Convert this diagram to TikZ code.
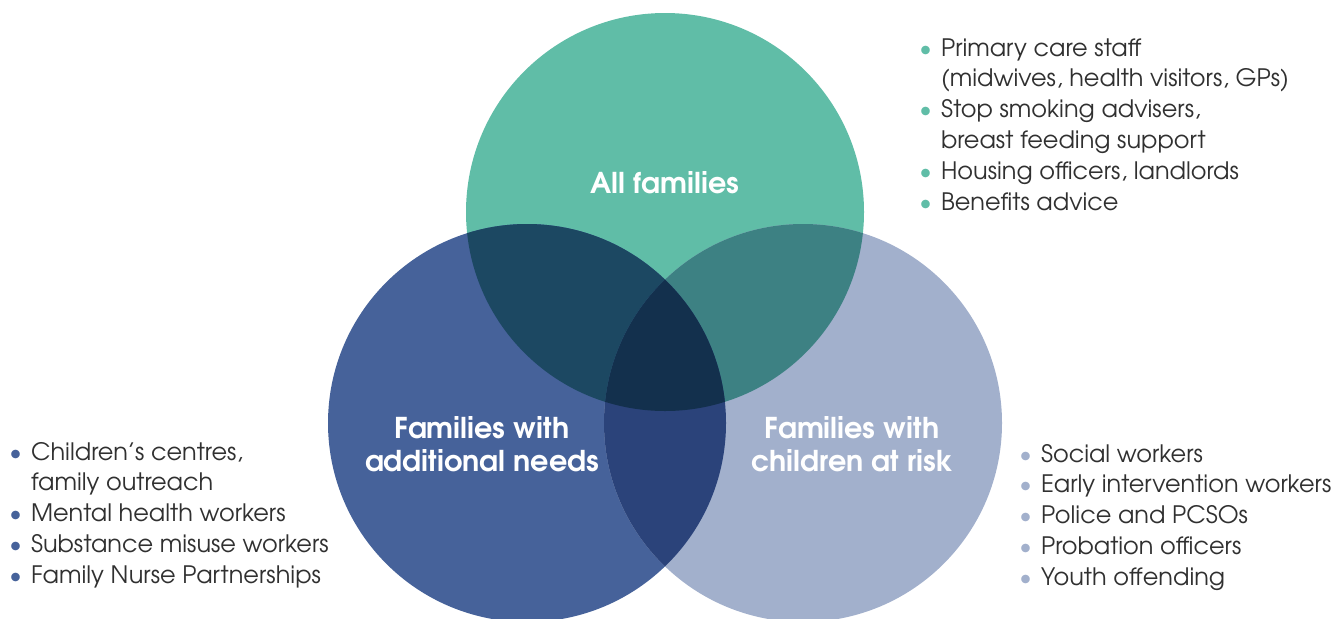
\documentclass[tikz,border=0pt]{standalone}
\usepackage{fontspec}
\setmainfont{TeX Gyre Adventor}
\definecolor{tealfill}{HTML}{60BDA7}
\definecolor{bluefill}{HTML}{46629A}
\definecolor{palefill}{HTML}{A2B0CC}
\definecolor{tealblue}{HTML}{1C4862}
\definecolor{tealpale}{HTML}{3D8183}
\definecolor{bluepale}{HTML}{2B437A}
\definecolor{allthree}{HTML}{13304D}
\definecolor{textgray}{HTML}{303030}
\newcommand{\bul}[1]{\textcolor{#1}{\textbullet}}
\tikzset{
  venn label/.style={text=white,font=\bfseries\fontsize{21.5}{24.75}\selectfont,align=center,inner sep=0pt},
  worker list/.style={anchor=base west,text=textgray,inner sep=0pt,font=\fontsize{18}{23.1}\selectfont},
}
\begin{document}
\begin{tikzpicture}[x=0.75pt,y=-0.75pt]
    \useasboundingbox (0,0) rectangle (1333,618);
    \coordinate (all) at (665,212);
    \coordinate (add) at (527,423);
    \coordinate (risk) at (803,423);

    % circles
    \fill[tealfill] (all) circle[radius=199];
    \fill[bluefill] (add) circle[radius=199];
    \fill[palefill] (risk) circle[radius=199];
    % overlaps
    \begin{scope}
        \clip (all) circle[radius=199];
        \fill[tealblue] (add) circle[radius=199];
        \fill[tealpale] (risk) circle[radius=199];
    \end{scope}
    \begin{scope}
        \clip (add) circle[radius=199];
        \fill[bluepale] (risk) circle[radius=199];
        \clip (risk) circle[radius=199];
        \fill[allthree] (all) circle[radius=199];
    \end{scope}

    \node[venn label] (alllab) at (665,183) {All families};
    \node[venn label] (addlab) at (482,444) {Families with\\additional needs};
    \node[venn label] (risklab) at (852,444) {Families with\\children at risk};

    \node[worker list] (alllist) at (919,56) {\begin{tabular}[t]{@{}l@{\hspace{7pt}}l@{}}
        \bul{tealfill} & Primary care staff\\
         & (midwives, health visitors, GPs)\\
        \bul{tealfill} & Stop smoking advisers,\\
         & breast feeding support\\
        \bul{tealfill} & Housing officers, landlords\\
        \bul{tealfill} & Benefits advice
    \end{tabular}};
    \node[worker list] (addlist) at (9,460) {\begin{tabular}[t]{@{}l@{\hspace{7pt}}l@{}}
        \bul{bluefill} & Children’s centres,\\
         & family outreach\\
        \bul{bluefill} & Mental health workers\\
        \bul{bluefill} & Substance misuse workers\\
        \bul{bluefill} & Family Nurse Partnerships
    \end{tabular}};
    \node[worker list] (risklist) at (1019,462) {\begin{tabular}[t]{@{}l@{\hspace{7pt}}l@{}}
        \bul{palefill} & Social workers\\
        \bul{palefill} & Early intervention workers\\
        \bul{palefill} & Police and PCSOs\\
        \bul{palefill} & Probation officers\\
        \bul{palefill} & Youth offending
    \end{tabular}};
\end{tikzpicture}
\end{document}
